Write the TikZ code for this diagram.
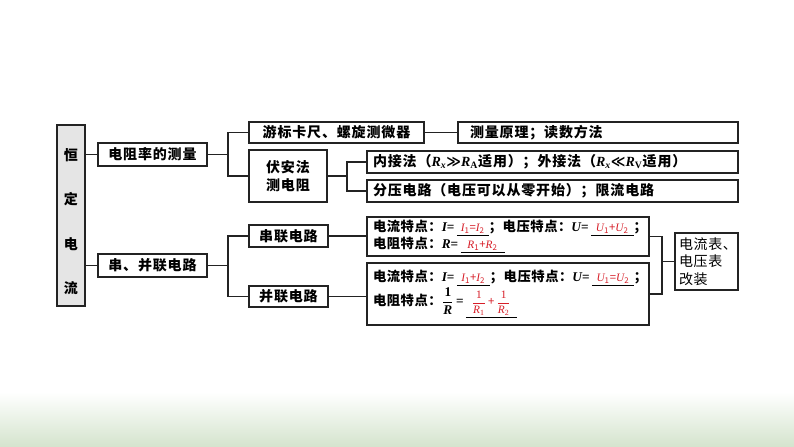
\documentclass[tikz,border=0pt]{standalone}
\usepackage{fontspec}
\usepackage{amsmath}
\setmainfont{Noto Sans CJK SC}
\newfontfamily\hanzi[LetterSpace=6]{Noto Sans CJK SC}
\newfontfamily\hanzin[LetterSpace=4]{Noto Sans CJK SC}
\newfontfamily\tnr{Liberation Serif}
\newfontfamily\djs{DejaVu Sans}
\definecolor{ansred}{RGB}{215,30,40}
\definecolor{lnc}{RGB}{35,35,35}
\definecolor{grn}{RGB}{212,228,205}
\newcommand\vi[1]{{\tnr\itshape #1}}
\newcommand\blk[2]{\underline{\makebox[#1]{\color{ansred}\mdseries\fontsize{8.5pt}{10pt}\selectfont #2}}}
\begin{document}
\begin{tikzpicture}[x=0.75pt,y=-0.75pt,
  box/.style={draw=lnc, line width=1.1pt, inner sep=0pt,
    font=\hanzi\bfseries\fontsize{10.5pt}{12pt}\selectfont},
  lbox/.style={box, align=left, inner xsep=#1},
  lnk/.style={draw=lnc, line width=1pt}]
\useasboundingbox (0,0) rectangle (794,447);
\fill[white] (0,0) rectangle (794,447);
\shade[top color=white, bottom color=grn] (0,392) rectangle (794,447);

% left column
\node[box, fill=black!10, minimum width=21pt, minimum height=135.75pt] (L) at (71,215.5) {};
\node[font=\hanzi\bfseries\fontsize{10.5pt}{33.2pt}\selectfont, align=center, inner sep=0pt] (Lt) at (71,221.5) {恒\\定\\电\\流};

\node[box, minimum width=81.75pt, minimum height=17.25pt] (A) at (152.5,154.5) {电阻率的测量};
\node[box, minimum width=81.75pt, minimum height=17.25pt] (B) at (152.5,265.5) {串、并联电路};

\node[box, minimum width=131.25pt, minimum height=15.75pt] (C) at (336.5,132.5) {游标卡尺、螺旋测微器};
\node[box, minimum width=58.5pt, minimum height=39pt, align=center,
  font=\hanzi\bfseries\fontsize{10.5pt}{13.5pt}\selectfont] (D) at (288,176) {伏安法\\测电阻};

\node[lbox=9pt, text width=192pt, minimum height=15.75pt] (E) at (598,132.5) {测量原理；读数方法};
\node[lbox=4.5pt, text width=269.25pt, minimum height=16.5pt] (F) at (552.5,162)
  {内接法（\vi{R}\textsubscript{\vi{x}}{\djs ≫}\vi{R}\textsubscript{\tnr A}适用）；外接法（\vi{R}\textsubscript{\vi{x}}{\djs ≪}\vi{R}\textsubscript{\tnr V}适用）};
\node[lbox=4.5pt, text width=269.25pt, minimum height=16.5pt] (G) at (552.5,191) {分压电路（电压可以从零开始）；限流电路};

\node[box, minimum width=59.25pt, minimum height=16.5pt] (H) at (288.5,236) {串联电路};
\node[box, minimum width=59.25pt, minimum height=15.75pt] (I) at (288.5,296.5) {并联电路};

\node[lbox=4.5pt, text width=202.5pt, minimum height=29.25pt,
  font=\hanzin\bfseries\fontsize{10pt}{12pt}\selectfont] (J) at (508,236.5)
  {电流特点：\vi{I}{\tnr =}\,\blk{24pt}{\vi{I}\textsubscript{1}=\vi{I}\textsubscript{2}}；电压特点：\vi{U}{\tnr =}\,\blk{32pt}{\vi{U}\textsubscript{1}+\vi{U}\textsubscript{2}}；\\
   电阻特点：\vi{R}{\tnr =}\,\blk{33pt}{\vi{R}\textsubscript{1}+\vi{R}\textsubscript{2}}};
\node[lbox=4.5pt, text width=202.5pt, minimum height=46.5pt,
  font=\hanzin\bfseries\fontsize{10pt}{13pt}\selectfont] (K) at (508,294)
  {电流特点：\vi{I}{\tnr =}\,\blk{24.75pt}{\vi{I}\textsubscript{1}+\vi{I}\textsubscript{2}}；电压特点：\vi{U}{\tnr =}\,\blk{31.5pt}{\vi{U}\textsubscript{1}=\vi{U}\textsubscript{2}}；\\
   电阻特点：$\dfrac{\mbox{\tnr 1}}{\mbox{\tnr\itshape R}}$\,{\tnr =}\,\blk{38pt}{$\dfrac{\mbox{\tnr 1}}{\mbox{\tnr\itshape R\textsubscript{\upshape 1}}}$\,+\,$\dfrac{\mbox{\tnr 1}}{\mbox{\tnr\itshape R\textsubscript{\upshape 2}}}$}};

\node[box, align=left, inner xsep=3pt, text width=41pt, minimum height=42.75pt,
  font=\hanzin\fontsize{10.5pt}{13.1pt}\selectfont] (M) at (706.5,261.5) {电流表、\\电压表\\改装};

% connectors
\draw[lnk] (L.east |- A.west) -- (A.west);
\draw[lnk] (L.east |- B.west) -- (B.west);
\coordinate (a1) at (228,154.5);
\draw[lnk] (A.east) -- (a1);
\draw[lnk] (C.west) -| (a1) |- (D.west);
\draw[lnk] (C.east) -- (E.west);
\coordinate (d1) at (347,176);
\draw[lnk] (D.east) -- (d1);
\draw[lnk] (F.west) -| (d1) |- (G.west);
\coordinate (b1) at (228,265.5);
\draw[lnk] (B.east) -- (b1);
\draw[lnk] (H.west) -| (b1) |- (I.west);
\draw[lnk] (H.east) -- (H.east -| J.west);
\draw[lnk] (I.east) -- (I.east -| K.west);
\coordinate (m1) at (662,261.5);
\draw[lnk] (J.east) -| (m1) |- (K.east);
\draw[lnk] (m1) -- (M.west);
\end{tikzpicture}
\end{document}
